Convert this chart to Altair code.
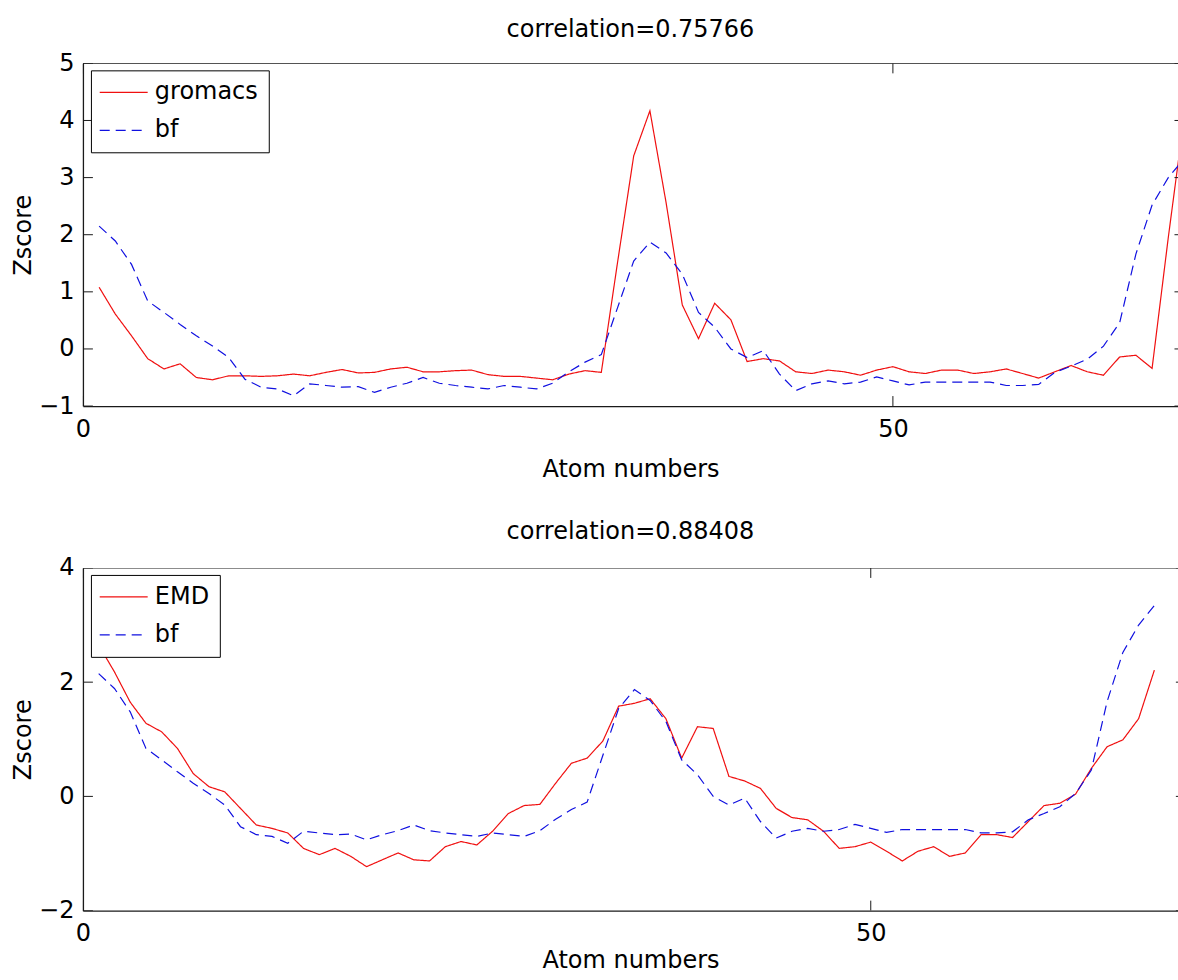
import altair as alt
import pandas as pd

# Atom index along the chain
atoms = list(range(1, 69))

# Z-scores per atom
gromacs = [
    1.08, 0.61, 0.23, -0.17, -0.35, -0.26, -0.50, -0.54, -0.47, -0.47,
    -0.48, -0.47, -0.44, -0.47, -0.41, -0.36, -0.42, -0.41, -0.35, -0.32,
    -0.40, -0.40, -0.38, -0.37, -0.45, -0.48, -0.48, -0.51, -0.54, -0.44,
    -0.38, -0.41, 1.51, 3.38, 4.17, 2.56, 0.77, 0.18, 0.80, 0.51,
    -0.22, -0.17, -0.21, -0.40, -0.43, -0.37, -0.40, -0.46, -0.37, -0.31,
    -0.40, -0.43, -0.37, -0.37, -0.43, -0.40, -0.35, -0.43, -0.51, -0.40,
    -0.29, -0.40, -0.46, -0.14, -0.11, -0.34, 1.95, 4.10,
]
emd = [
    2.65, 2.18, 1.65, 1.28, 1.13, 0.84, 0.40, 0.17, 0.08, -0.21,
    -0.50, -0.56, -0.64, -0.91, -1.02, -0.91, -1.05, -1.23, -1.11, -0.99,
    -1.11, -1.13, -0.88, -0.79, -0.85, -0.61, -0.30, -0.16, -0.14, 0.23,
    0.58, 0.67, 0.97, 1.58, 1.63, 1.71, 1.36, 0.67, 1.22, 1.19,
    0.35, 0.27, 0.14, -0.21, -0.37, -0.41, -0.61, -0.91, -0.88, -0.80,
    -0.96, -1.13, -0.96, -0.88, -1.05, -0.99, -0.67, -0.67, -0.72, -0.44,
    -0.16, -0.12, 0.04, 0.49, 0.87, 0.99, 1.36, 2.21,
]
bf = [
    2.15, 1.89, 1.48, 0.84, 0.64, 0.43, 0.23, 0.05, -0.15, -0.53,
    -0.67, -0.70, -0.82, -0.61, -0.64, -0.67, -0.66, -0.76, -0.67, -0.60,
    -0.50, -0.60, -0.64, -0.67, -0.70, -0.64, -0.67, -0.70, -0.60, -0.40,
    -0.23, -0.10, 0.72, 1.54, 1.87, 1.68, 1.31, 0.64, 0.38, 0.00,
    -0.15, -0.03, -0.44, -0.73, -0.61, -0.56, -0.61, -0.58, -0.49, -0.56,
    -0.63, -0.58, -0.58, -0.58, -0.58, -0.58, -0.64, -0.64, -0.62, -0.41,
    -0.30, -0.18, 0.05, 0.46, 1.66, 2.52, 3.00, 3.34,
]

x_ticks = [0, 50]
FONT = "DejaVu Sans"
W, H = 1096, 343
TICK = 10  # inward tick length, px
RED, BLUE = "#f01010", "#1010e0"
# flat line glyph for the legend (48 px long at size 144)
LEGEND_LINE = "M-2.2,0H5.8"


def panel(name, values, title, x_vis, x_lim, y_lo, y_hi, y_ticks, title_offset, xtitle_pad):
    n = len(atoms)
    df = pd.DataFrame({
        "atom": atoms + atoms,
        "zscore": values + bf,
        "series": [name] * n + ["bf"] * n,
    })
    names = [name, "bf"]
    legend = alt.Legend(
        title=None, orient="none", legendX=8, legendY=7,
        symbolType=LEGEND_LINE, symbolSize=144, symbolStrokeWidth=1.2,
        symbolFillColor="transparent",
        labelFont=FONT, labelFontSize=24, labelColor="black",
        labelOffset=30, padding=10, rowPadding=14,
        strokeColor="black", fillColor="white",
    )
    x_scale = alt.Scale(domain=[0, x_vis], nice=False, zero=False)
    y_scale = alt.Scale(domain=[y_lo, y_hi], nice=False, zero=False)

    lines = alt.Chart(df).mark_line(clip=True, strokeWidth=1.2).encode(
        x=alt.X("atom:Q", scale=x_scale,
                axis=alt.Axis(values=x_ticks, title="Atom numbers", format="d",
                              labelFlush=False, labelPadding=11, titlePadding=xtitle_pad)),
        y=alt.Y("zscore:Q", scale=y_scale,
                axis=alt.Axis(values=y_ticks, title="Zscore", format="d",
                              labelFlush=False, labelPadding=9, titlePadding=3)),
        color=alt.Color("series:N", sort=names,
                        scale=alt.Scale(domain=names, range=[RED, BLUE]),
                        legend=legend),
        strokeDash=alt.StrokeDash("series:N", sort=names,
                                  scale=alt.Scale(domain=names, range=[[1, 0], [10, 6]]),
                                  legend=legend),
    )

    dx = TICK * x_vis / W
    dy = TICK * (y_hi - y_lo) / H
    frame = "#1a1a1a"

    top_border = alt.Chart(pd.DataFrame({"atom": [0], "atom2": [x_lim], "zscore": [y_hi]})) \
        .mark_rule(clip=True, color=frame, strokeWidth=1.3) \
        .encode(x="atom:Q", x2="atom2:Q", y="zscore:Q")

    xt = pd.DataFrame({"atom": x_ticks})
    bottom_ticks = alt.Chart(xt.assign(zscore=y_lo, zscore2=y_lo + dy)) \
        .mark_rule(clip=True, color=frame).encode(x="atom:Q", y="zscore:Q", y2="zscore2:Q")
    top_ticks = alt.Chart(xt.assign(zscore=y_hi, zscore2=y_hi - dy)) \
        .mark_rule(clip=True, color=frame).encode(x="atom:Q", y="zscore:Q", y2="zscore2:Q")

    yt = pd.DataFrame({"zscore": y_ticks})
    left_ticks = alt.Chart(yt.assign(atom=0, atom2=dx)) \
        .mark_rule(clip=True, color=frame).encode(x="atom:Q", x2="atom2:Q", y="zscore:Q")
    right_ticks = alt.Chart(yt.assign(atom=x_lim - dx, atom2=x_lim)) \
        .mark_rule(clip=True, color=frame).encode(x="atom:Q", x2="atom2:Q", y="zscore:Q")

    return alt.layer(lines, top_border, bottom_ticks, top_ticks, left_ticks, right_ticks).properties(
        width=W, height=H,
        title=alt.TitleParams(title, font=FONT, fontSize=24, fontWeight="normal",
                              color="black", anchor="middle", offset=title_offset),
    )


top = panel("gromacs", gromacs, "correlation=0.75766", 67.6, 68, -1, 5,
            [-1, 0, 1, 2, 3, 4, 5], 9, 16)
bottom = panel("EMD", emd, "correlation=0.88408", 69.5, 70, -2, 4,
               [-2, 0, 2, 4], 12, 3)

chart = alt.vconcat(top, bottom, spacing=39).resolve_scale(
    color="independent", strokeDash="independent"
).resolve_legend(
    color="independent", strokeDash="independent"
).properties(
    padding={"left": 11, "top": 18, "right": 0, "bottom": 0},
    background="white",
).configure_view(stroke=None).configure_axis(
    grid=False, ticks=False, tickSize=0,
    domainColor="#1a1a1a", domainWidth=1.3,
    labelFont=FONT, labelFontSize=24, labelColor="black",
    titleFont=FONT, titleFontSize=24, titleFontWeight="normal", titleColor="black",
)

chart.save("out.html", embed_options={"renderer": "svg", "actions": False})
